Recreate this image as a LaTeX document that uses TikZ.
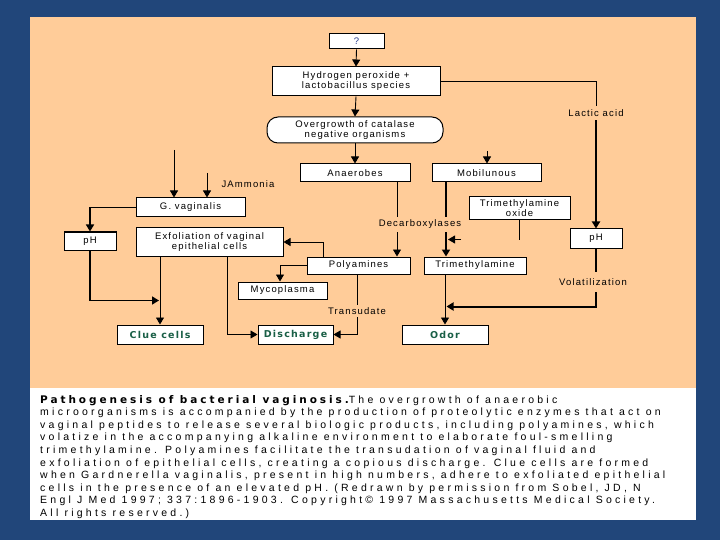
\documentclass[tikz,border=0pt]{standalone}
\usepackage{fontspec}
\setmainfont{Liberation Sans}
\newfontfamily\dfont[LetterSpace=12,BoldFont={DejaVu Sans Bold},BoldFeatures={LetterSpace=13}]{Liberation Sans}
\newfontfamily\cfont[LetterSpace=31,BoldFont={DejaVu Sans Bold},BoldFeatures={LetterSpace=28}]{Liberation Sans}
\usetikzlibrary{arrows.meta,calc}
\definecolor{bgblue}{RGB}{33,70,122}
\definecolor{peach}{RGB}{255,204,153}
\definecolor{dgreen}{RGB}{25,95,70}
\definecolor{qblue}{RGB}{40,60,140}
\begin{document}
\begin{tikzpicture}[x=1pt,y=-1pt,
  box/.style={draw=black,fill=white,line width=1pt,inner sep=0pt,align=center,
    font=\dfont\fontsize{9.5}{10}\selectfont},
  gbox/.style={box,text=dgreen,font=\dfont\bfseries\fontsize{9.5}{10}\selectfont},
  lab/.style={inner sep=0pt,font=\dfont\fontsize{9.5}{10}\selectfont},
  thn/.style={line width=0.9pt},
  thk/.style={line width=2pt},
  mid/.style={line width=1.5pt},
  arr/.style={-{Triangle[width=8pt,length=7pt]}},
  captxt/.style={anchor=base west,inner sep=0pt,font=\cfont\fontsize{10.5}{12.6}\selectfont}]
\useasboundingbox (0,0) rectangle (720,540);
\fill[bgblue] (0,0) rectangle (720,540);
\fill[peach] (30,17) rectangle (696,388);
\fill[white] (30,388) rectangle (696,520);

% boxes
\node[box,text=qblue,minimum width=55,minimum height=15] (q) at (356.5,41.5) {?};
\node[box,minimum width=168,minimum height=29] (hp) at (356,81.5) {Hydrogen peroxide +\\lactobacillus species};
\node[box,rounded corners=11pt,minimum width=176,minimum height=26] (og) at (355,130) {Overgrowth of catalase\\negative organisms};
\node[box,minimum width=110,minimum height=18] (an) at (355,173) {Anaerobes};
\node[box,minimum width=109,minimum height=18] (mob) at (486.5,173) {Mobilunous};
\node[box,minimum width=109,minimum height=19] (gv) at (190.5,207.5) {G. vaginalis};
\node[box,minimum width=52,minimum height=18] (phl) at (90,241) {pH};
\node[box,minimum width=147,minimum height=28] (exf) at (209.5,242) {Exfoliation of vaginal\\epithelial cells};
\node[box,minimum width=101,minimum height=23] (tmao) at (519.5,208.5) {Trimethylamine\\oxide};
\node[box,minimum width=52,minimum height=19] (phr) at (596,238.5) {pH};
\node[box,minimum width=103,minimum height=17] (poly) at (358.5,265.5) {Polyamines};
\node[box,minimum width=102,minimum height=17] (tma) at (475,265.5) {Trimethylamine};
\node[box,minimum width=89,minimum height=17] (myc) at (282.5,290.5) {Mycoplasma};
\node[gbox,minimum width=86,minimum height=19] (clue) at (160,334.5) {Clue cells};
\node[gbox,minimum width=75,minimum height=19] (dis) at (295.5,334.5) {Discharge};
\node[gbox,minimum width=86,minimum height=19] (odor) at (445,334.5) {Odor};

% labels
\node[lab,minimum height=14] (lac) at (596,113) {Lactic acid};
\node[lab,minimum height=15] (dec) at (420,224.5) {Decarboxylases};
\node[lab,minimum height=20] (vol) at (593,282) {Volatilization};
\node[lab,minimum height=12] (tra) at (357,311) {Transudate};
\node[lab] (amm) at (248,184) {JAmmonia};

% helper coordinates
\coordinate (xa) at (397,0);
\coordinate (xm) at (446,0);
\coordinate (xp) at (357,0);
\coordinate (xq) at (323,0);
\coordinate (xe) at (227,0);
\coordinate (g1s) at (174,150);
\coordinate (g2s) at (207,173);
\coordinate (ms) at (487,151);
\coordinate (ta1) at (461,239.5);
\coordinate (ta2) at (448,239.5);

% connectors
\draw[thn,arr] (q.south) -- (hp.north);
\draw[thn,arr] (hp.south) -- (og.north);
\draw[thn,arr] (og.south) -- (an.north);
\draw[thn] (hp.east) -| (lac.north);
\draw[thk,arr] (lac.south) -- (phr.north);
\draw[thn] (an.south -| xa) -- (dec.north -| xa);
\draw[thn,arr] (dec.south -| xa) -- (poly.north -| xa);
\draw[thk] (mob.south -| xm) -- (dec.north -| xm);
\draw[thk,arr] (dec.south -| xm) -- (tma.north -| xm);
\draw[thn] (tmao.south) -- ++(0,19.5);
\draw[thn,arr] (ta1) -- (ta2);
\draw[thk] (phr.south) -- (phr.south |- vol.north);
\draw[thk,arr] (phr.south |- vol.south) |- ($(odor.north)+(1.5,-18)$);
\draw[thn,arr] (tma.south -| odor.north) -- (odor.north);
\draw[thn] (poly.south -| xp) -- (tra.north -| xp);
\draw[thn,arr] (tra.south -| xp) |- (dis.east);
\draw[thn,arr] (poly.north -| xq) |- (exf.east);
\draw[thn,arr] (poly.west) -| ($(myc.north)+(-2.5,0)$);
\draw[thn,arr] (g1s) -- (g1s |- gv.north);
\draw[thn,arr] (g2s) -- (g2s |- gv.north);
\draw[thn,arr] (ms) -- (ms |- mob.north);
\draw[mid,arr] (gv.west) -| (phl.north);
\draw[mid,arr] (phl.south) |- ($(clue.north)+(-1,-24)$);
\draw[thn,arr] (exf.south -| clue.north) -- (clue.north);
\draw[thn,arr] (exf.south -| xe) |- (dis.west);

% caption
\node[captxt] (c1) at (40,403) {{\bfseries Pathogenesis of bacterial vaginosis.}The overgrowth of anaerobic};
\node[captxt] (c2) at (40,415.6) {microorganisms is accompanied by the production of proteolytic enzymes that act on};
\node[captxt] (c3) at (40,428.2) {vaginal peptides to release several biologic products, including polyamines, which};
\node[captxt] (c4) at (40,440.8) {volatize in the accompanying alkaline environment to elaborate foul-smelling};
\node[captxt] (c5) at (40,453.4) {trimethylamine. Polyamines facilitate the transudation of vaginal fluid and};
\node[captxt] (c6) at (40,466) {exfoliation of epithelial cells, creating a copious discharge. Clue cells are formed};
\node[captxt] (c7) at (40,478.6) {when Gardnerella vaginalis, present in high numbers, adhere to exfoliated epithelial};
\node[captxt] (c8) at (40,491.2) {cells in the presence of an elevated pH. (Redrawn by permission from Sobel, JD, N};
\node[captxt] (c9) at (40,503.8) {Engl J Med 1997; 337:1896-1903. Copyright© 1997 Massachusetts Medical Society.};
\node[captxt] (c10) at (40,516.4) {All rights reserved.)};
\end{tikzpicture}
\end{document}
